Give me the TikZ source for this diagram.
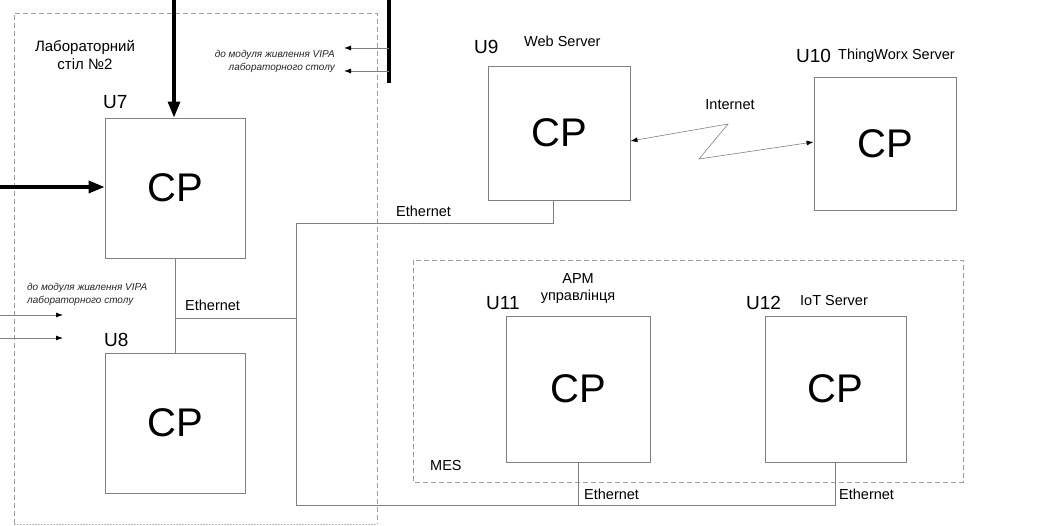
\documentclass[tikz,border=0pt]{standalone}
\usepackage{fontspec}
\setmainfont{Liberation Sans}
\usetikzlibrary{arrows.meta}
\definecolor{linegray}{HTML}{808080}
\definecolor{dashgray}{HTML}{9C9C9C}
\tikzset{
  cpbox/.style={draw=linegray, line width=0.9pt, inner sep=0pt,
    font=\fontsize{40}{42}\selectfont},
  unitlabel/.style={anchor=west, inner sep=0pt, font=\fontsize{19}{21}\selectfont},
  caption/.style={inner sep=0pt, font=\fontsize{14.5}{17}\selectfont},
  note/.style={inner sep=0pt, font=\fontsize{10}{13}\selectfont\itshape, text=black!85},
  wire/.style={draw=linegray, line width=0.8pt},
  feed/.style={draw=black, line width=3.2pt},
  feedarrow/.style={feed, -{Triangle[length=16pt, width=12pt]}},
  tip/.style={-{Latex[length=7pt, width=5pt, color=black]}},
  tap/.style={wire, tip},
  zone/.style={draw=dashgray, line width=0.8pt, dash pattern=on 5pt off 3pt},
}
\begin{document}
\begin{tikzpicture}[x=1pt, y=-1pt]
\useasboundingbox (0,0) rectangle (1040,526);

% laboratory table zone
\draw[zone] (14,524) -- (14,13) -- (377,13) -- (377,524);
\draw[draw=dashgray!70, line width=0.8pt, dash pattern=on 1.5pt off 1.5pt] (14,524) -- (377,524);
\node[caption, align=center, font=\fontsize{15}{18.5}\selectfont] (tablename) at (85,55) {Лабораторний\\стіл №2};

% MES zone
\draw[zone] (413,260) rectangle (963,482);
\node[caption, anchor=west] (mes) at (430,466) {MES};

% devices
\node[cpbox, minimum width=140pt, minimum height=140pt] (u7) at (175,188) {CP};
\node[cpbox, minimum width=140pt, minimum height=140pt] (u8) at (175,423) {CP};
\node[cpbox, minimum width=142pt, minimum height=134pt] (u9) at (559,133) {CP};
\node[cpbox, minimum width=142pt, minimum height=133pt] (u10) at (885,143.5) {CP};
\node[cpbox, minimum width=144pt, minimum height=146pt] (u11) at (578,389) {CP};
\node[cpbox, minimum width=141pt, minimum height=146pt] (u12) at (835.5,389) {CP};

% device designations
\node[unitlabel] (l7) at (103,102) {U7};
\node[unitlabel] (l8) at (104,340) {U8};
\node[unitlabel] (l9) at (474,47) {U9};
\node[unitlabel] (l10) at (796,56) {U10};
\node[unitlabel] (l11) at (486,303) {U11};
\node[unitlabel] (l12) at (746,303) {U12};

% device titles
\node[caption, anchor=west] (t9) at (524,41) {Web Server};
\node[caption, anchor=west] (t10) at (838,56) {ThingWorx Server};
\node[caption, align=center] (t11) at (578,289) {АРМ\\управлінця};
\node[caption, anchor=west] (t12) at (800,301) {IoT Server};

% power supply feeds
\coordinate (feedtop) at (174,0);
\coordinate (feedleft) at (0,187);
\draw[feedarrow] (feedtop) -- (u7.north -| feedtop);
\draw[feedarrow] (feedleft) -- (u7.west |- feedleft);

\coordinate (bus1) at (389,0);
\coordinate (bus2) at (389,83);
\draw[feed] (bus1) -- (bus2);
\coordinate (busa) at (389,48);
\coordinate (busb) at (389,71);
\coordinate (tapa) at (344,48);
\coordinate (tapb) at (344,71);
\draw[tap] (busa) -- (tapa);
\draw[tap] (busb) -- (tapb);
\node[note, anchor=east, align=right] (notetop) at (335,61) {до модуля живлення VIPA\\лабораторного столу};

\coordinate (lefta0) at (0,315);
\coordinate (lefta1) at (63,315);
\coordinate (leftb0) at (0,338);
\coordinate (leftb1) at (63,338);
\draw[tap] (lefta0) -- (lefta1);
\draw[tap] (leftb0) -- (leftb1);
\node[note, anchor=west, align=left] (noteleft) at (27,294) {до модуля живлення VIPA\\лабораторного столу};

% Ethernet network
\draw[wire] (u7.south) -- (u8.north);
\coordinate (tee7) at (175,318);
\coordinate (bustop) at (296,223);
\coordinate (busmid) at (296,318);
\coordinate (busbot) at (296,505);
\coordinate (web) at (553,223);
\draw[wire] (tee7) -- (busmid);
\draw[wire] (busbot) -- (bustop) -- (web) -- (u9.south -| web);
\draw[wire] (busbot) -- (u12.south |- busbot) -- (u12.south);
\draw[wire] (u11.south |- busbot) -- (u11.south);
\node[caption, anchor=west] (e1) at (185,305) {Ethernet};
\node[caption, anchor=west] (e2) at (396,211) {Ethernet};
\node[caption, anchor=west] (e3) at (584,494) {Ethernet};
\node[caption, anchor=west] (e4) at (839,494) {Ethernet};

% Internet link
\coordinate (z1) at (728,124);
\coordinate (z2) at (699,159);
\draw[wire, line width=0.6pt, {Latex[length=7pt, width=5pt, color=black]}-{Latex[length=7pt, width=5pt, color=black]}]
  (u9.east |- 0,141) -- (z1) -- (z2) -- (u10.west |- 0,142);
\node[caption] (inet) at (730,105) {Internet};
\end{tikzpicture}
\end{document}
